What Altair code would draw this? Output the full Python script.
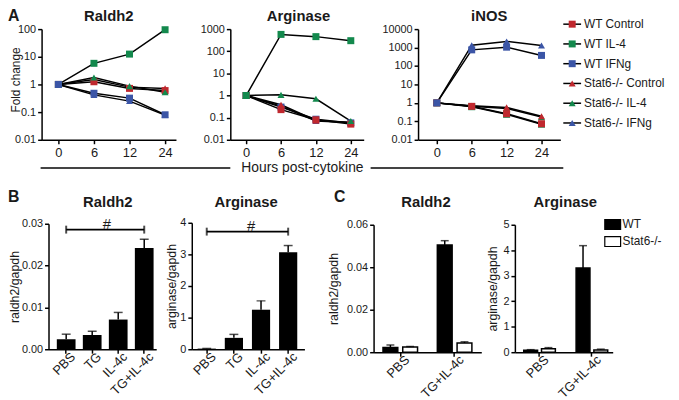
import altair as alt
import pandas as pd

FONT = "Liberation Sans"
TXT = "#1a1a1a"
W, H = 671, 392

# ---------------- data ----------------
hours = ["0", "6", "12", "24"]
series_names = ["WT Control", "WT IL-4", "WT IFNg",
                "Stat6-/- Control", "Stat6-/- IL-4", "Stat6-/- IFNg"]
series_colors = ["#c0282e", "#13894d", "#3b55a6", "#c0282e", "#13894d", "#3b55a6"]
series_shapes = ["square", "square", "square", "triangle-up", "triangle-up", "triangle-up"]

raldh2_fold = {
    "WT Control":       [1, 1.25, 0.72, 0.60],
    "WT IL-4":          [1, 5.8, 12.5, 95],
    "WT IFNg":          [1, 0.48, 0.32, 0.08],
    "Stat6-/- Control": [1, 1.5, 0.80, 0.72],
    "Stat6-/- IL-4":    [1, 1.77, 0.87, 0.52],
    "Stat6-/- IFNg":    [1, 0.42, 0.25, 0.078],
}
arginase_fold = {
    "WT Control":       [1, 0.23, 0.08, 0.051],
    "WT IL-4":          [1, 577, 457, 300],
    "WT IFNg":          [1, 0.30, 0.085, 0.058],
    "Stat6-/- Control": [1, 0.38, 0.075, 0.06],
    "Stat6-/- IL-4":    [1, 1.07, 0.71, 0.07],
    "Stat6-/- IFNg":    [1, 0.33, 0.07, 0.06],
}
inos_fold = {
    "WT Control":       [1, 0.65, 0.26, 0.074],
    "WT IL-4":          [1, 0.62, 0.24, 0.07],
    "WT IFNg":          [1, 750, 1050, 375],
    "Stat6-/- Control": [1, 0.70, 0.57, 0.19],
    "Stat6-/- IL-4":    [1, 0.66, 0.50, 0.17],
    "Stat6-/- IFNg":    [1, 1350, 2150, 1300],
}
# drawing order (last is on top)
raldh2_order = ["Stat6-/- Control", "WT Control", "Stat6-/- IL-4", "WT IL-4", "Stat6-/- IFNg", "WT IFNg"]
arginase_order = ["Stat6-/- IFNg", "WT IFNg", "Stat6-/- Control", "WT Control", "Stat6-/- IL-4", "WT IL-4"]
inos_order = ["Stat6-/- IL-4", "WT IL-4", "Stat6-/- Control", "WT Control", "Stat6-/- IFNg", "WT IFNg"]

b_groups = ["PBS", "TG", "IL-4c", "TG+IL-4c"]
b_raldh2_mean = [0.0024, 0.0034, 0.0071, 0.0242]
b_raldh2_sem = [0.0012, 0.0009, 0.0017, 0.0021]
b_arginase_mean = [0.02, 0.36, 1.25, 3.07]
b_arginase_sem = [0.005, 0.11, 0.28, 0.21]
b_raldh2_bracket = 0.0286
b_arginase_bracket = 3.72

c_groups = ["PBS", "TG+IL-4c"]
genotypes = ["WT", "Stat6-/-"]
genotype_fill = ["#000000", "#ffffff"]
c_raldh2_wt_mean = [0.0022, 0.0505]
c_raldh2_wt_sem = [0.0012, 0.0020]
c_raldh2_ko_mean = [0.0025, 0.0043]
c_raldh2_ko_sem = [0.0002, 0.0006]
c_arginase_wt_mean = [0.08, 3.30]
c_arginase_wt_sem = [0.02, 0.88]
c_arginase_ko_mean = [0.14, 0.09]
c_arginase_ko_sem = [0.04, 0.03]

panel_titles_A = ["Raldh2", "Arginase", "iNOS"]
panel_titles_BC = ["Raldh2", "Arginase", "Raldh2", "Arginase"]


# ---------------- helpers ----------------
def axis(**kw):
    base = dict(grid=False, domainColor="black", domainWidth=1.5, tickColor="black",
                tickWidth=1.5, tickSize=4, labelFont=FONT, labelColor=TXT,
                titleFont=FONT, titleColor=TXT, titleFontWeight="normal",
                labelOverlap=False, labelFlush=False, labelPadding=2)
    base.update(kw)
    return alt.Axis(**base)


def text_layer(txt, x, y, size, bold=False, align="center", baseline="middle"):
    return alt.Chart(pd.DataFrame({"t": [txt]})).mark_text(
        font=FONT, fontSize=size, fontWeight="bold" if bold else "normal",
        align=align, baseline=baseline, color=TXT
    ).encode(x=alt.value(x), y=alt.value(y), text="t:N")


def fold_panel(values, order, xr, xdom, ydom, ytitle, title_kw=None):
    rows = []
    for s in order:
        i = series_names.index(s)
        for k, h in enumerate(hours):
            rows.append(dict(series=s, idx=k, value=values[s][k],
                             color=series_colors[i], shape=series_shapes[i]))
    df = pd.DataFrame(rows)
    yb, yt = 131, 19
    yvals = [10 ** e for e in range(-2, 5) if 10 ** e <= ydom[1] * 1.0001]
    xs = alt.Scale(domain=xdom, range=xr, nice=False, zero=False)
    ys = alt.Scale(type="log", domain=ydom, range=[yb, yt], nice=False)
    label_expr = "[" + ",".join("'%s'" % h for h in hours) + "][datum.value]"
    xax = axis(orient="bottom", offset=-(H - yb), values=[0, 1, 2, 3], labelExpr=label_expr,
               labelFontSize=13, labelPadding=3, title=None)
    yax = axis(orient="left", offset=-xr[0], values=yvals, format="~g", labelFontSize=11,
               title=ytitle, titleFontSize=12, **(title_kw or {}))
    X = alt.X("idx:Q", scale=xs, axis=xax)
    Y = alt.Y("value:Q", scale=ys, axis=yax)
    lines = alt.Chart(df).mark_line(color="black", strokeWidth=1.5).encode(
        x=X, y=Y, detail="series:N", order="idx:Q")
    pts = alt.Chart(df).mark_point(filled=True, opacity=1, size=50, strokeWidth=0).encode(
        x=X, y=Y,
        color=alt.Color("color:N", scale=None),
        shape=alt.Shape("shape:N", scale=None))
    return alt.layer(lines, pts)


def xaxis_rot(yb):
    return axis(orient="bottom", offset=-(H - yb), labelAngle=-45, labelAlign="right",
                labelBaseline="top", labelFontSize=13, title=None, labelPadding=-3,
                labelOffset=3)


def bar_panel(means, sems, xr, yb, yt, ydom, yvals, fmt, ytitle, title_kw, pi, po, align,
              bracket, hash_x):
    df = pd.DataFrame({"group": b_groups, "mean": means,
                       "top": [m + s for m, s in zip(means, sems)]})
    xs = alt.Scale(type="band", domain=b_groups, range=xr, paddingInner=pi,
                   paddingOuter=po, align=align)
    ys = alt.Scale(domain=ydom, range=[yb, yt], nice=False, zero=True)
    xax = xaxis_rot(yb)
    yax = axis(orient="left", offset=-xr[0], values=yvals, format=fmt, labelFontSize=11,
               title=ytitle, titleFontSize=12.5, **title_kw)

    def X(f):
        return alt.X(f, scale=xs, axis=xax)

    def Y(f):
        return alt.Y(f, scale=ys, axis=yax)

    bars = alt.Chart(df).mark_bar(color="black").encode(x=X("group:N"), y=Y("mean:Q"))
    err = alt.Chart(df).mark_rule(color="black", strokeWidth=1.5).encode(
        x=X("group:N"), y=Y("mean:Q"), y2="top:Q")
    cap = alt.Chart(df).mark_tick(color="black", thickness=1.5, size=9, orient="horizontal").encode(
        x=X("group:N"), y=Y("top:Q"))
    bdf = pd.DataFrame({"x1": [b_groups[0]], "x2": [b_groups[-1]], "yb": [bracket], "t": ["#"]})
    br = alt.Chart(bdf).mark_rule(color="black", strokeWidth=2).encode(
        x=X("x1:N"), x2="x2:N", y=Y("yb:Q"))
    cdf = pd.DataFrame({"g": [b_groups[0], b_groups[-1]], "yb": [bracket, bracket]})
    brc = alt.Chart(cdf).mark_tick(color="black", thickness=2, size=8, orient="vertical").encode(
        x=X("g:N"), y=Y("yb:Q"))
    hs = alt.Chart(bdf).mark_text(font=FONT, fontSize=15, color=TXT, baseline="alphabetic", dy=-1).encode(
        x=alt.value(hash_x), y=Y("yb:Q"), text="t:N")
    return alt.layer(bars, err, cap, br, brc, hs)


def group_panel(wt_m, wt_s, ko_m, ko_s, xr, yb, yt, ydom, yvals, fmt, ytitle, tp,
                pi, po, align, pio):
    rows = []
    for gi, g in enumerate(c_groups):
        for k, (m, s) in enumerate([(wt_m[gi], wt_s[gi]), (ko_m[gi], ko_s[gi])]):
            rows.append(dict(treat=g, geno=genotypes[k], mean=m, top=m + s, fillc=genotype_fill[k]))
    df = pd.DataFrame(rows)
    xs = alt.Scale(type="band", domain=c_groups, range=xr, paddingInner=pi,
                   paddingOuter=po, align=align)
    xos = alt.Scale(type="band", domain=genotypes, paddingInner=pio, paddingOuter=0)
    ys = alt.Scale(domain=ydom, range=[yb, yt], nice=False, zero=True)
    xax = xaxis_rot(yb)
    yax = axis(orient="left", offset=-xr[0], values=yvals, format=fmt, labelFontSize=11,
               title=ytitle, titleFontSize=12.5, titlePadding=tp)
    X = alt.X("treat:N", scale=xs, axis=xax)
    XO = alt.XOffset("geno:N", scale=xos)
    bars = alt.Chart(df).mark_bar(stroke="black", strokeWidth=1.5).encode(
        x=X, xOffset=XO, y=alt.Y("mean:Q", scale=ys, axis=yax),
        fill=alt.Fill("fillc:N", scale=None))
    err = alt.Chart(df).mark_rule(color="black", strokeWidth=1.5).encode(
        x=X, xOffset=XO, y=alt.Y("mean:Q", scale=ys, axis=yax), y2="top:Q")
    cap = alt.Chart(df).mark_tick(color="black", thickness=1.5, size=8, orient="horizontal").encode(
        x=X, xOffset=XO, y=alt.Y("top:Q", scale=ys, axis=yax))
    return alt.layer(err, bars, cap)


# ---------------- panels ----------------
A1 = fold_panel(raldh2_fold, raldh2_order, [34, 170], [-0.472, 3.306], [0.01, 100], "Fold change",
                dict(titleX=-19, titleY=70))
A2 = fold_panel(arginase_fold, arginase_order, [225, 360], [-0.453, 3.37], [0.01, 1000], None)
A3 = fold_panel(inos_fold, inos_order, [415, 559], [-0.538, 3.54], [0.01, 10000], None)

# legend for A
ldf = pd.DataFrame({"label": series_names, "i": list(range(6)),
                    "color": series_colors, "shape": series_shapes})
lys = alt.Scale(domain=[0, 5], range=[14, 114])
leg_line = alt.Chart(ldf).mark_rule(color="black", strokeWidth=1.5).encode(
    x=alt.value(562), x2=alt.value(580), y=alt.Y("i:Q", scale=lys, axis=None))
leg_pt = alt.Chart(ldf).mark_point(filled=True, opacity=1, size=50, strokeWidth=0).encode(
    x=alt.value(571), y=alt.Y("i:Q", scale=lys, axis=None),
    color=alt.Color("color:N", scale=None), shape=alt.Shape("shape:N", scale=None))
leg_txt = alt.Chart(ldf).mark_text(font=FONT, fontSize=12, color=TXT, align="left", baseline="middle").encode(
    x=alt.value(583), y=alt.Y("i:Q", scale=lys, axis=None), text="label:N")
LEGA = alt.layer(leg_line, leg_pt, leg_txt)

B1 = bar_panel(b_raldh2_mean, b_raldh2_sem, [41, 150], 343, 216, [0, 0.03],
               [0, 0.01, 0.02, 0.03], ".2f", "raldh2/gapdh", dict(titleX=-27),
               0.28, 0.21, 0.76, b_raldh2_bracket, 100)
B2 = bar_panel(b_arginase_mean, b_arginase_sem, [186, 300], 343, 215, [0, 4],
               [0, 1, 2, 3, 4], "d", "arginase/gapdh", dict(titlePadding=1),
               0.33, 0.24, 0.45, b_arginase_bracket, 246)
C1 = group_panel(c_raldh2_wt_mean, c_raldh2_wt_sem, c_raldh2_ko_mean, c_raldh2_ko_sem,
                 [370, 479], 346, 217, [0, 0.06], [0, 0.02, 0.04, 0.06], ".2f",
                 "raldh2/gapdh", 6, 0.364, 0.173, 0.5, 0.25)
C2 = group_panel(c_arginase_wt_mean, c_arginase_wt_sem, c_arginase_ko_mean, c_arginase_ko_sem,
                 [513, 612], 346, 217, [0, 5], [0, 1, 2, 3, 4, 5], "d",
                 "arginase/gapdh", 3, 0.396, 0.132, 0.64, 0.22)

# legend for C
cdf_leg = pd.DataFrame({"label": genotypes, "i": [0, 1], "fillc": genotype_fill})
cys = alt.Scale(domain=[0, 1], range=[216.7, 234])
cleg_box = alt.Chart(cdf_leg).mark_point(
    shape="M-1.6,-1H1.6V1H-1.6Z", size=100, filled=True, opacity=1,
    stroke="black", strokeWidth=1.2).encode(
    x=alt.value(612), y=alt.Y("i:Q", scale=cys, axis=None),
    fill=alt.Fill("fillc:N", scale=None))
cleg_txt = alt.Chart(cdf_leg).mark_text(font=FONT, fontSize=12, color=TXT, align="left", baseline="middle").encode(
    x=alt.value(622), y=alt.Y("i:Q", scale=cys, axis=None), text="label:N")
LEGC = alt.layer(cleg_box, cleg_txt)

# annotations
ann = [
    text_layer("A", 0, 6, 16, bold=True, align="left"),
    text_layer("B", 0, 189, 16, bold=True, align="left"),
    text_layer("C", 330, 189, 16, bold=True, align="left"),
    text_layer(panel_titles_A[0], 102, 6, 15, bold=True),
    text_layer(panel_titles_A[1], 294, 6, 15, bold=True),
    text_layer(panel_titles_A[2], 487, 6, 15, bold=True),
    text_layer(panel_titles_BC[0], 101, 194, 15, bold=True),
    text_layer(panel_titles_BC[1], 241, 194, 15, bold=True),
    text_layer(panel_titles_BC[2], 423, 194, 15, bold=True),
    text_layer(panel_titles_BC[3], 564, 194, 15, bold=True),
    text_layer("Hours post-cytokine", 298, 163.5, 14, baseline="alphabetic"),
]
one = pd.DataFrame({"k": [0]})
hline1 = alt.Chart(one).mark_rule(color="#444444", strokeWidth=2).encode(
    x=alt.value(33), x2=alt.value(225), y=alt.value(159.5))
hline2 = alt.Chart(one).mark_rule(color="#444444", strokeWidth=2).encode(
    x=alt.value(367), x2=alt.value(562), y=alt.value(159.5))

chart = alt.layer(
    A1, A2, A3, LEGA, B1, B2, C1, C2, LEGC, hline1, hline2, *ann
).resolve_scale(
    x="independent", y="independent", xOffset="independent"
).resolve_axis(
    x="independent", y="independent"
).properties(
    width=W, height=H, padding=0, autosize=alt.AutoSizeParams(type="none")
).configure(font=FONT).configure_view(stroke=None)

chart.save("out.html", embed_options={"renderer": "svg", "actions": False})
